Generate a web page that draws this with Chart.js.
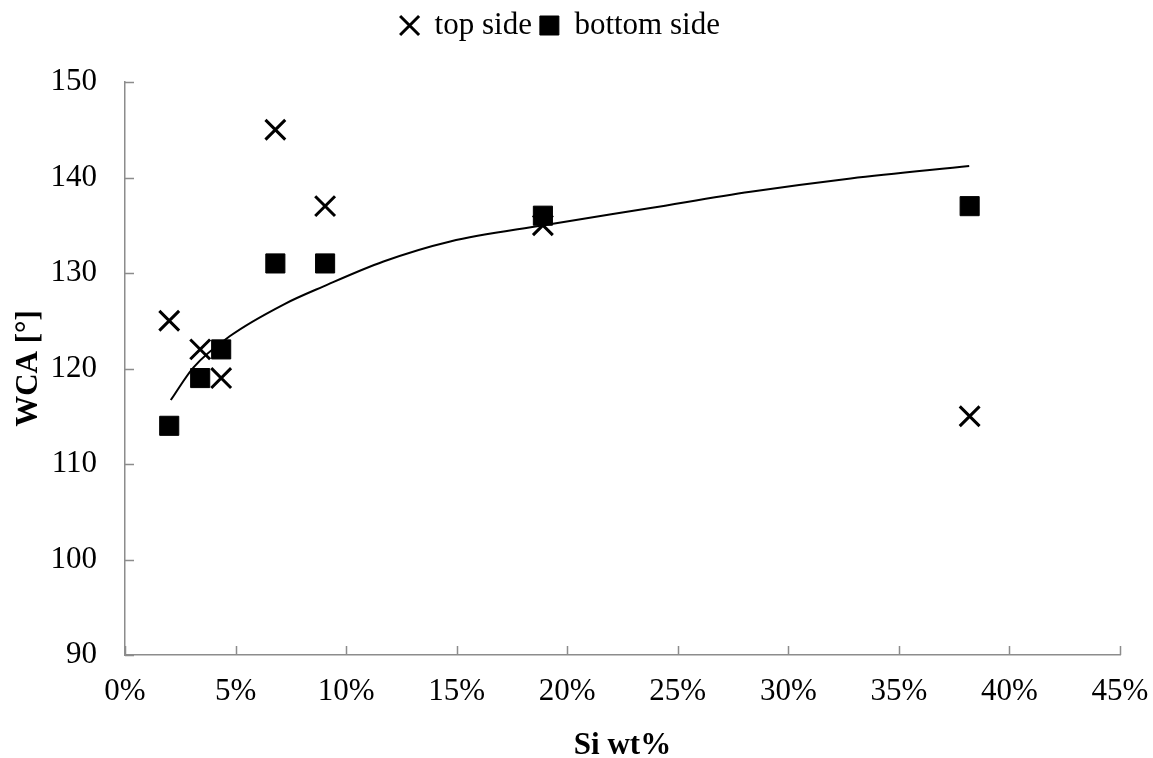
<!DOCTYPE html>
<html>
<head>
<meta charset="utf-8">
<script src="https://cdn.jsdelivr.net/npm/chart.js@4.4.1/dist/chart.umd.min.js"></script>
<style>
    html, body { margin: 0; padding: 0; background: #ffffff; }
    #wrap { width: 1153px; height: 758px; }
</style>
</head>
<body>
<div id="wrap"><canvas id="wcaChart"></canvas></div>
<script>
// Si-Anteil in wt% (x) und Kontaktwinkel (y)
const si_wt = [2.0, 3.4, 4.35, 6.8, 9.05, 18.9, 38.2];
const wca_top = [125, 122, 119, 145, 137, 135, 115];
const wca_bottom = [114, 119, 122, 131, 131, 136, 137];

// Trendlinie (log), Punkte
const trend_x = [2.07, 3.09, 4.75, 7.17, 8.98, 11.69, 14.71, 18.94, 23.77, 28.29, 32.82, 38.18];
const trend_y = [116.7, 120.1, 123.4, 126.7, 128.6, 131.2, 133.3, 135.0, 136.8, 138.5, 139.9, 141.2];

const x_ticks = { min: 0, max: 45, step: 5 };
const y_ticks = { min: 90, max: 150, step: 10 };

const font_family = "'Liberation Serif', 'Times New Roman', serif";
const font_size = 31;
const axis_color = '#8c8c8c';

function toPoints(xs, ys) {
    return xs.map((x, i) => ({ x: x, y: ys[i] }));
}

// Tick-Striche nach innen zeichnen (Excel-Stil)
const innerTicks = {
    id: 'innerTicks',
    afterDatasetsDraw(chart) {
        const { ctx, chartArea, scales } = chart;
        ctx.save();
        ctx.strokeStyle = axis_color;
        ctx.lineWidth = 1.5;
        ctx.beginPath();
        scales.x.ticks.forEach(t => {
            const px = Math.round(scales.x.getPixelForValue(t.value)) + 0.5;
            ctx.moveTo(px, chartArea.bottom);
            ctx.lineTo(px, chartArea.bottom - 9);
        });
        scales.y.ticks.forEach(t => {
            const py = Math.round(scales.y.getPixelForValue(t.value)) + 0.5;
            ctx.moveTo(chartArea.left, py);
            ctx.lineTo(chartArea.left + 9, py);
        });
        ctx.stroke();
        ctx.restore();
    }
};

Chart.defaults.font.family = font_family;
Chart.defaults.color = '#000000';

const config = {
    type: 'scatter',
    data: {
        datasets: [
            {
                label: 'top side',
                data: toPoints(si_wt, wca_top),
                pointStyle: 'crossRot',
                pointRadius: 14,
                pointHoverRadius: 14,
                borderColor: '#000000',
                backgroundColor: '#000000',
                borderWidth: 3
            },
            {
                label: 'bottom side',
                data: toPoints(si_wt, wca_bottom),
                pointStyle: 'rect',
                pointRadius: 13.5,
                pointHoverRadius: 13.5,
                borderColor: '#000000',
                backgroundColor: '#000000',
                borderWidth: 1
            },
            {
                label: 'trend',
                data: toPoints(trend_x, trend_y),
                showLine: true,
                pointRadius: 0,
                borderColor: '#000000',
                borderWidth: 2,
                cubicInterpolationMode: 'monotone'
            }
        ]
    },
    options: {
        responsive: true,
        maintainAspectRatio: false,
        animation: false,
        layout: { padding: { left: 0, right: 33, top: 2, bottom: 0 } },
        plugins: {
            legend: {
                position: 'top',
                labels: {
                    usePointStyle: true,
                    boxWidth: 19,
                    boxHeight: 19,
                    padding: 8,
                    color: '#000000',
                    font: { size: font_size, family: font_family },
                    filter: item => item.text !== 'trend'
                }
            },
            // leerer Titel nur als Abstand zwischen Legende und Diagramm
            title: {
                display: true,
                text: '',
                weight: 500,
                font: { size: 1, lineHeight: 1 },
                padding: { top: 30, bottom: 0 }
            },
            tooltip: { enabled: false }
        },
        scales: {
            x: {
                type: 'linear',
                min: x_ticks.min,
                max: x_ticks.max,
                afterFit: scale => {
                    scale.height = 103;
                    scale.paddingLeft = 0;
                    scale.paddingRight = 0;
                },
                grid: { display: false, drawTicks: false },
                border: { display: true, color: axis_color, width: 1.5 },
                ticks: {
                    stepSize: x_ticks.step,
                    padding: 18,
                    color: '#000000',
                    font: { size: font_size, family: font_family },
                    callback: v => v + '%'
                },
                title: {
                    display: true,
                    text: 'Si wt%',
                    color: '#000000',
                    font: { size: font_size, weight: 'bold', family: font_family, lineHeight: 1 },
                    padding: { top: 0, bottom: -3 }
                }
            },
            y: {
                type: 'linear',
                min: y_ticks.min,
                max: y_ticks.max,
                afterFit: scale => { scale.width = 125; },
                grid: { display: false, drawTicks: false },
                border: { display: true, color: axis_color, width: 1.5 },
                ticks: {
                    stepSize: y_ticks.step,
                    padding: 28,
                    color: '#000000',
                    font: { size: font_size, family: font_family }
                },
                title: {
                    display: true,
                    text: 'WCA [°]',
                    color: '#000000',
                    font: { size: font_size, weight: 'bold', family: font_family, lineHeight: 1 },
                    padding: { top: 13, bottom: 0 }
                }
            }
        }
    },
    plugins: [innerTicks]
};

new Chart(document.querySelector('#wcaChart'), config);
</script>
</body>
</html>
